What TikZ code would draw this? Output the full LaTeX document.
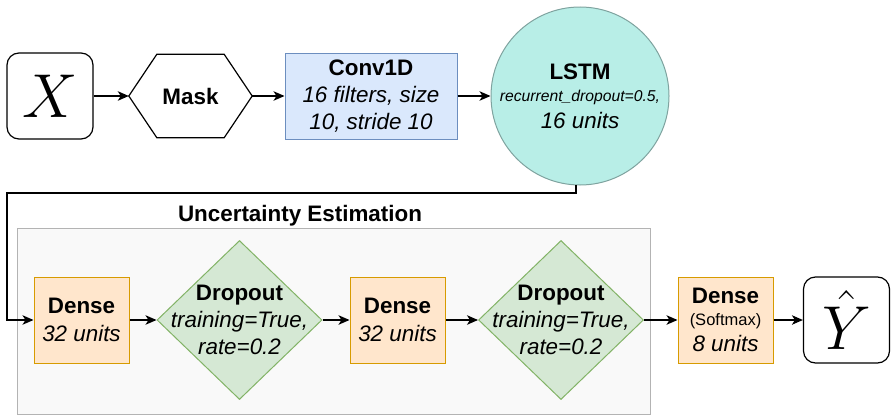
\RequirePackage{fix-cm}
\documentclass[tikz,border=0pt]{standalone}
\usepackage{fontspec}
\setmainfont{Liberation Sans}
\usetikzlibrary{shapes.geometric,arrows.meta}

\definecolor{convfill}{HTML}{DAE8FC}
\definecolor{convline}{HTML}{6C8EBF}
\definecolor{lstmfill}{HTML}{B8EEE7}
\definecolor{lstmline}{HTML}{7FA39F}
\definecolor{densefill}{HTML}{FFE6CC}
\definecolor{denseline}{HTML}{D79B00}
\definecolor{dropfill}{HTML}{D5E8D4}
\definecolor{dropline}{HTML}{82B366}
\definecolor{groupfill}{HTML}{F9F9F9}
\definecolor{groupline}{HTML}{B3B3B3}

\begin{document}
\begin{tikzpicture}[x=1pt,y=-1pt,
  base/.style={font=\fontsize{22.4}{27}\selectfont, align=center, inner sep=0pt},
  iobox/.style={draw, line width=1.2pt, rounded corners=12pt, minimum width=86pt,
    minimum height=86pt, inner sep=0pt, font=\fontsize{62}{62}\selectfont},
  convbox/.style={base, draw=convline, fill=convfill, line width=1pt,
    minimum width=172pt, minimum height=86pt},
  densebox/.style={base, draw=denseline, fill=densefill, line width=1pt,
    minimum width=95pt, minimum height=86pt},
  dropshape/.style={diamond, draw=dropline, fill=dropfill, line width=1pt,
    minimum width=165pt, minimum height=159pt, inner sep=0pt},
  link/.style={line width=1.3pt, -{Stealth[length=11pt,width=9.5pt,inset=3pt]}},
]
\useasboundingbox (0,0) rectangle (891,415);

% uncertainty estimation group
\node[draw=groupline, fill=groupfill, line width=1pt, minimum width=633pt,
  minimum height=186pt, inner sep=0pt] (grp) at (333.5,321) {};
\node[base, font=\fontsize{22.4}{27}\selectfont\bfseries, anchor=base] (grplabel)
  at (300,221.7) {Uncertainty Estimation};

% top row
\node[iobox] (xin) at (50,96) {$X$};
\node[base, minimum width=123pt, minimum height=83pt] (mask) at (190.5,96) {\textbf{Mask}};
\draw[line width=1.2pt] (mask.west) -- ([xshift=28pt]mask.north west)
  -- ([xshift=-28pt]mask.north east) -- (mask.east)
  -- ([xshift=-28pt]mask.south east) -- ([xshift=28pt]mask.south west) -- cycle;
\node[convbox] (conv) at (371,96)
  {\textbf{Conv1D}\\\textit{16 filters, size}\\\textit{10, stride 10}};
\node[circle, draw=lstmline, fill=lstmfill, line width=1pt, minimum size=178pt,
  inner sep=0pt] (lstm) at (580,96) {};
\node[base] (lstmtxt) at (lstm.center)
  {\textbf{LSTM}\\[-5pt]{\fontsize{15.7}{19}\selectfont\itshape recurrent\_dropout=0.5,}\\\textit{16 units}};

% bottom row
\node[densebox] (d1) at (81.5,320) {\textbf{Dense}\\[1.4pt]\textit{32 units}};
\node[dropshape] (p1) at (239.5,320) {};
\node[base] (p1txt) at (p1.center)
  {\textbf{Dropout}\\\textit{training=True,}\\\textit{rate=0.2}};
\node[densebox] (d2) at (397.5,320) {\textbf{Dense}\\[1.4pt]\textit{32 units}};
\node[dropshape] (p2) at (561,320) {};
\node[base] (p2txt) at (p2.center)
  {\textbf{Dropout}\\\textit{training=True,}\\\textit{rate=0.2}};
\node[densebox] (d3) at (725.5,320)
  {\textbf{Dense}\\[-4.6pt]{\fontsize{16.5}{19}\selectfont(Softmax)}\\[-1pt]\textit{8 units}};
\node[iobox] (yout) at (846.5,320) {$\hat{Y}$};

% connectors
\draw[link] (xin.east) -- (mask.west);
\draw[link] (mask.east) -- (conv.west);
\draw[link] (conv.east) -- (lstm.west);
\coordinate (bend) at (7,193);
\draw[link] ([xshift=-4pt,yshift=0.3pt]lstm.south) |- (bend) |- (d1.west);
\draw[link] (d1.east) -- (p1.west);
\draw[link] (p1.east) -- (d2.west);
\draw[link] (d2.east) -- (p2.west);
\draw[link] (p2.east) -- (d3.west);
\draw[link] (d3.east) -- (yout.west);
\end{tikzpicture}
\end{document}
